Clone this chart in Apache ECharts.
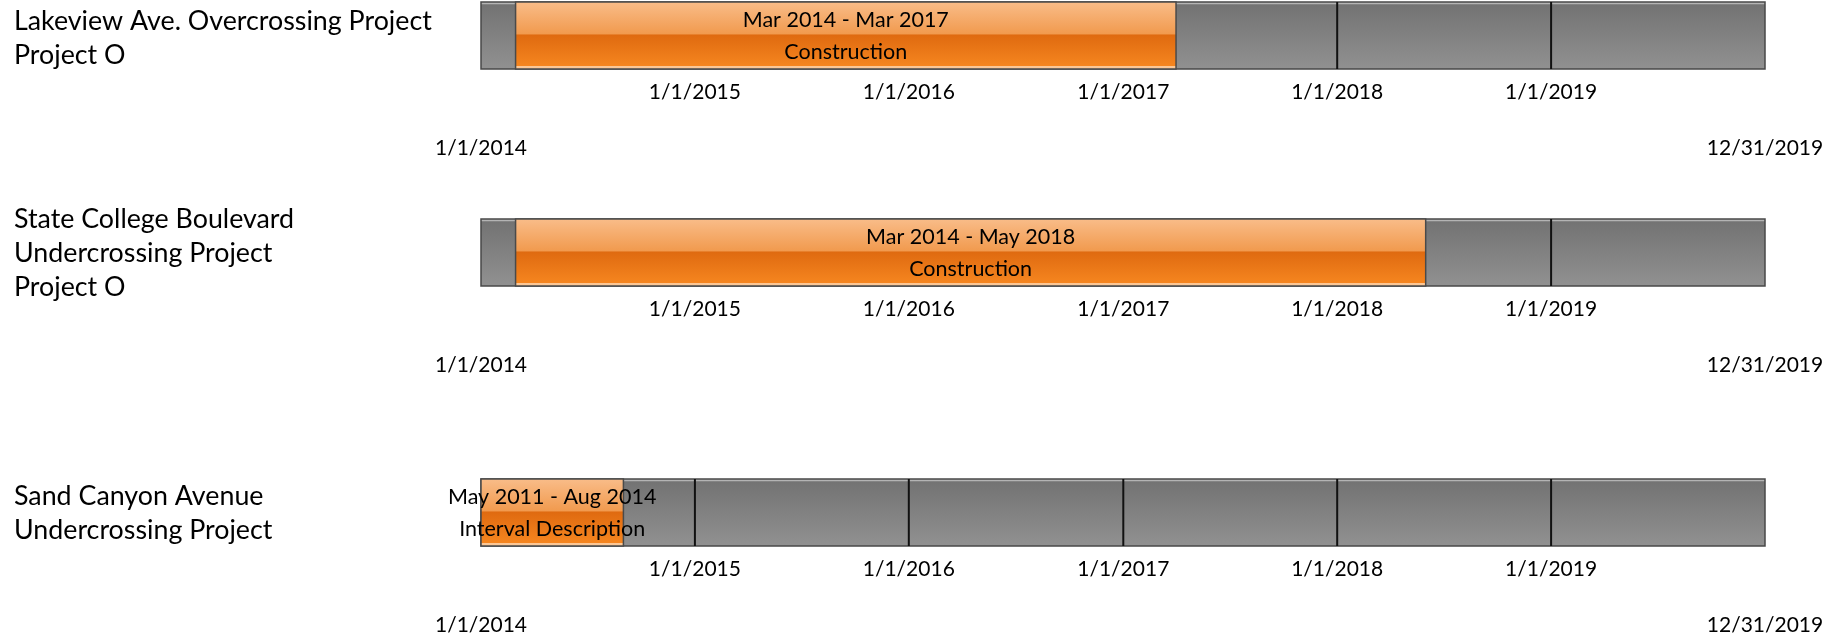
<!DOCTYPE html>
<html><head><meta charset="utf-8">
<script src="https://cdn.jsdelivr.net/npm/echarts@6/dist/echarts.min.js"></script>
<style>html,body{margin:0;padding:0;background:#fff}#c{width:1846px;height:639px}</style>
</head><body><div id="c"></div>
<script>
// ---- data ----
const projectNames = [
  'Lakeview Ave. Overcrossing Project\nProject O',
  'State College Boulevard\nUndercrossing Project\nProject O',
  'Sand Canyon Avenue\nUndercrossing Project'
];
const intervalStarts = ['2014-03-01', '2014-03-01', '2011-05-01'];
const intervalEnds = ['2017-03-31', '2018-05-31', '2014-08-31'];
const intervalRanges = ['Mar 2014 - Mar 2017', 'Mar 2014 - May 2018', 'May 2011 - Aug 2014'];
const intervalDescriptions = ['Construction', 'Construction', 'Interval Description'];
const timelineStart = '2014-01-01';
const timelineEnd = '2019-12-31';
const yearTicks = ['2015-01-01', '2016-01-01', '2017-01-01', '2018-01-01', '2019-01-01'];

// ---- helpers ----
const DAY = 86400000;
function t(s) { const p = s.split('-').map(Number); return new Date(p[0], p[1] - 1, p[2]).getTime(); }
function endOfDay(s) { return t(s) + DAY - 1; }
function fmt(v) { const d = new Date(v); return (d.getMonth() + 1) + '/' + d.getDate() + '/' + d.getFullYear(); }

const FONT = 'Lato';
const axisMin = t(timelineStart), axisMax = endOfDay(timelineEnd);
const gridTops = [2, 219, 479];
const titleTops = [4, 202, 479];
const BAR_H = 67;

const grayFill = new echarts.graphic.LinearGradient(0, 0, 0, 1, [
  { offset: 0, color: '#b4b4b4' }, { offset: 0.04, color: '#b4b4b4' },
  { offset: 0.05, color: '#737373' }, { offset: 1, color: '#919191' }
]);
const orangeFill = new echarts.graphic.LinearGradient(0, 0, 0, 1, [
  { offset: 0, color: '#f9bd8a' }, { offset: 0.48, color: '#f19a4e' },
  { offset: 0.49, color: '#df6a10' }, { offset: 0.94, color: '#f5851f' },
  { offset: 0.95, color: '#fbc796' }, { offset: 1, color: '#fbc796' }
]);

function spanRect(params, api) {
  const cs = params.coordSys;
  const p0 = api.coord([api.value(0), 1]);
  const p1 = api.coord([api.value(1), 0]);
  const x0 = Math.max(p0[0], cs.x), x1 = Math.min(p1[0], cs.x + cs.width);
  return { x: x0, y: p0[1], width: x1 - x0, height: p1[1] - p0[1] };
}

const option = {
  animation: false,
  backgroundColor: '#ffffff',
  title: projectNames.map((n, i) => ({
    text: n, left: 14, top: titleTops[i], padding: 0,
    textStyle: { fontFamily: FONT, fontSize: 26.8, lineHeight: 34, fontWeight: 'normal', color: '#000' }
  })),
  grid: gridTops.map(top => ({ left: 481, right: 81, top: top, height: BAR_H })),
  xAxis: [],
  yAxis: gridTops.map((_, i) => ({ type: 'value', gridIndex: i, min: 0, max: 1, show: false })),
  series: []
};

gridTops.forEach((_, i) => {
  option.xAxis.push({
    type: 'value', gridIndex: i, min: axisMin, max: axisMax, position: 'bottom',
    axisLine: { show: false }, axisTick: { show: false }, splitLine: { show: false },
    axisLabel: {
      customValues: yearTicks.map(t), formatter: v => fmt(v), margin: 13,
      fontFamily: FONT, fontSize: 21, color: '#000'
    }
  });
  option.xAxis.push({
    type: 'value', gridIndex: i, min: axisMin, max: axisMax, position: 'bottom', offset: 56,
    axisLine: { show: false }, axisTick: { show: false }, splitLine: { show: false },
    axisLabel: {
      customValues: [axisMin, axisMax], formatter: v => fmt(v), margin: 13,
      showMinLabel: true, showMaxLabel: true,
      fontFamily: FONT, fontSize: 21, color: '#000'
    }
  });
  const xi = i * 2;
  option.series.push({
    type: 'custom', xAxisIndex: xi, yAxisIndex: i, z: 2, silent: true,
    data: [[axisMin, axisMax]], encode: { x: [0, 1] },
    renderItem: (params, api) => ({
      type: 'rect', shape: spanRect(params, api),
      style: { fill: grayFill, stroke: '#484848', lineWidth: 1.5 }
    })
  });
  option.series.push({
    type: 'custom', xAxisIndex: xi, yAxisIndex: i, z: 3, silent: true,
    data: yearTicks.map(s => [t(s)]), encode: { x: 0 },
    renderItem: (params, api) => {
      const a = api.coord([api.value(0), 1]);
      const b = api.coord([api.value(0), 0]);
      return { type: 'line', shape: { x1: a[0], y1: a[1], x2: b[0], y2: b[1] }, style: { stroke: '#111', lineWidth: 2 } };
    }
  });
  option.series.push({
    type: 'custom', xAxisIndex: xi, yAxisIndex: i, z: 4, silent: true,
    data: [[t(intervalStarts[i]), endOfDay(intervalEnds[i])]], encode: { x: [0, 1] },
    renderItem: (params, api) => {
      const r = spanRect(params, api);
      const cx = r.x + r.width / 2, cy = r.y + r.height / 2;
      return {
        type: 'group', children: [
          { type: 'rect', shape: r, style: { fill: orangeFill, stroke: '#4a4a4a', lineWidth: 1.5 } },
          { type: 'text', style: { text: intervalRanges[i], x: cx, y: cy - 15, align: 'center', verticalAlign: 'middle', fontFamily: FONT, fontSize: 21.5, fill: '#000' } },
          { type: 'text', style: { text: intervalDescriptions[i], x: cx, y: cy + 17, align: 'center', verticalAlign: 'middle', fontFamily: FONT, fontSize: 21.5, fill: '#000' } }
        ]
      };
    }
  });
});

const chart = echarts.init(document.getElementById('c'), null, { renderer: 'canvas' });
chart.setOption(option);
</script>
</body></html>
